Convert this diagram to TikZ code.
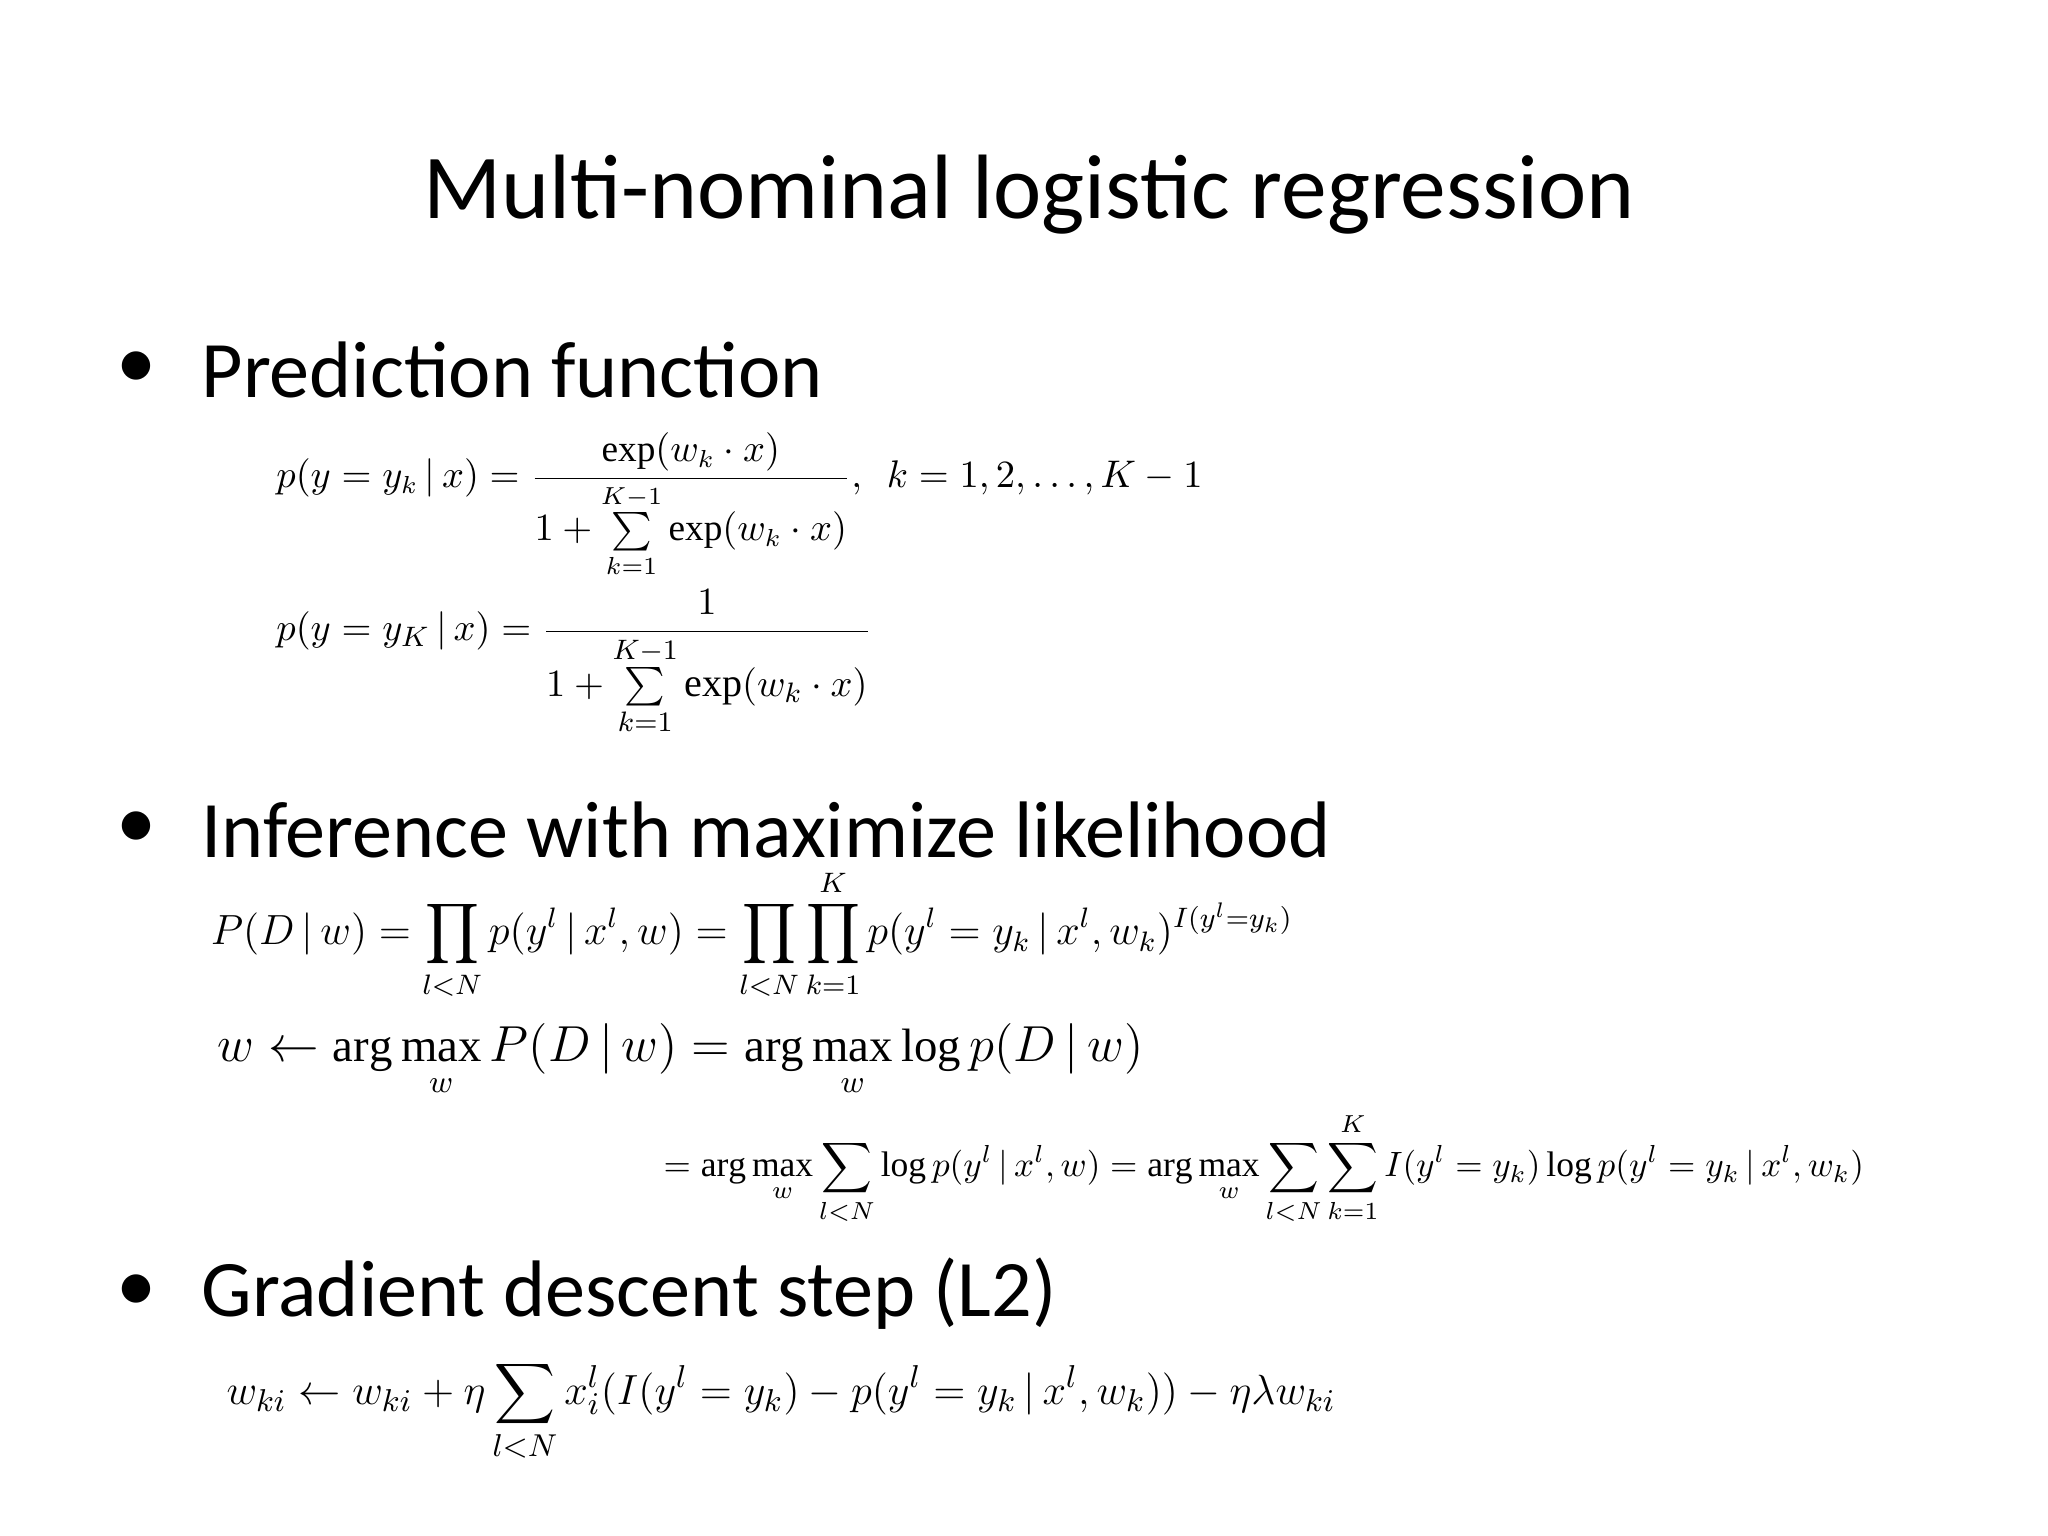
\documentclass[tikz,border=0pt]{standalone}
\usepackage{amsmath}
\usepackage{fontspec}
\setmainfont{Liberation Serif}
\newfontfamily\carl{Carlito}
\begin{document}
\begin{tikzpicture}[x=0.013128cm,y=-0.013128cm,
  bul/.style={anchor=west,font=\carl\fontsize{22.8}{27}\selectfont,inner sep=0},
  dot/.style={inner sep=0,font=\carl\fontsize{22.8}{27}\selectfont},
  eq/.style={anchor=west,inner sep=0}]
\useasboundingbox[fill=white] (0,0) rectangle (1560,1170);
\node[font=\carl\fontsize{26}{31}\selectfont] (title) at (784,148) {Multi-nominal logistic regression};
\node[dot] (d1) at (104,282) {•};
\node[dot] (d2) at (104,632) {•};
\node[dot] (d3) at (104,985) {•};
\node[bul] (b1) at (153,282) {Prediction function};
\node[bul] (b2) at (153,632) {Inference with maximize likelihood};
\node[bul] (b3) at (153,985) {Gradient descent step (L2)};
\node[eq,font=\fontsize{10.6}{13}\selectfont] (e1) at (210,385) {$\displaystyle p(y=y_k\,|\,x)=\frac{\exp(w_k\cdot x)}{1+\sum\limits_{k=1}^{K-1}\exp(w_k\cdot x)},\ \ k=1,2,\dots,K-1$};
\node[eq,font=\fontsize{11.4}{14}\selectfont] (e2) at (210,505) {$\displaystyle p(y=y_K\,|\,x)=\frac{1}{1+\sum\limits_{k=1}^{K-1}\exp(w_k\cdot x)}$};
\node[eq,font=\fontsize{12}{15}\selectfont] (e3) at (160,712) {$\displaystyle P(D\,|\,w)=\prod_{l<N}p(y^l\,|\,x^l,w)=\prod_{l<N}\prod_{k=1}^{K}p(y^l=y_k\,|\,x^l,w_k)^{I(y^l=y_k)}$};
\node[eq,font=\fontsize{13.3}{16}\selectfont] (e4) at (165,808) {$\displaystyle w\leftarrow\arg\max_w P(D\,|\,w)=\arg\max_w\log p(D\,|\,w)$};
\node[eq,font=\fontsize{10.1}{12}\selectfont] (e5) at (505,890) {$\displaystyle =\arg\max_w\sum_{l<N}\log p(y^l\,|\,x^l,w)=\arg\max_w\sum_{l<N}\sum_{k=1}^{K}I(y^l=y_k)\log p(y^l=y_k\,|\,x^l,w_k)$};
\node[eq,font=\fontsize{12.9}{16}\selectfont] (e6) at (172,1075) {$\displaystyle w_{ki}\leftarrow w_{ki}+\eta\sum_{l<N}x_i^l(I(y^l=y_k)-p(y^l=y_k\,|\,x^l,w_k))-\eta\lambda w_{ki}$};
\end{tikzpicture}
\end{document}
